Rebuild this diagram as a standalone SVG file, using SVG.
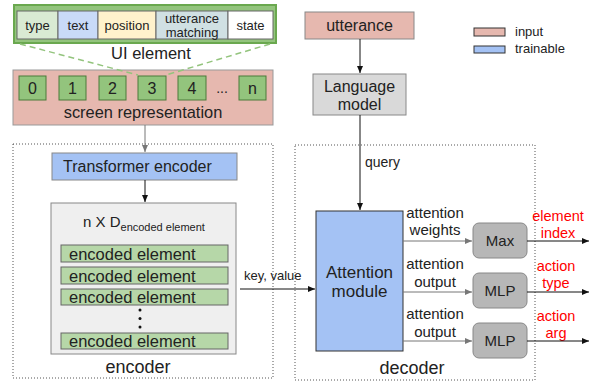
<svg xmlns="http://www.w3.org/2000/svg" width="593" height="383" viewBox="0 0 593 383">
<defs>
<style>
text{font-family:"Liberation Sans",Arial,sans-serif;fill:#222}
.c{text-anchor:middle}
.t16{font-size:16px}
.t15{font-size:15px}
.t13{font-size:13px}
.t14{font-size:14px}
.red{fill:#ff0000;font-size:14.5px;text-anchor:middle}
.cell{stroke:#666;stroke-width:1}
.num{fill:#93c47d;stroke:#4a7a3a;stroke-width:1}
.enc{fill:#b6d7a8;stroke:#666;stroke-width:1}
.et{font-size:16.5px}
.gl{stroke:#777;stroke-width:1;fill:none}
.bl{stroke:#111;stroke-width:1;fill:none}
.dot{fill:none;stroke:#555;stroke-width:1;stroke-dasharray:1,2}
</style>
<marker id="ah" markerWidth="8" markerHeight="8" refX="7" refY="4" orient="auto" markerUnits="userSpaceOnUse"><path d="M0,1 L7,4 L0,7 z" fill="#111"/></marker>
<marker id="ahg" markerWidth="8" markerHeight="8" refX="7" refY="4" orient="auto" markerUnits="userSpaceOnUse"><path d="M0,1 L7,4 L0,7 z" fill="#777"/></marker>
</defs>

<g id="encoder-frame"><rect class="dot" x="13" y="144" width="260" height="234"/><text class="c" x="138" y="373" style="font-size:18px">encoder</text></g>
<g id="decoder-frame"><rect class="dot" x="295" y="145" width="240" height="235"/><text class="c" x="412" y="374" style="font-size:18px">decoder</text></g>

<g id="ui-element">
<rect x="14" y="5" width="262" height="38" fill="#93c47d" stroke="#6aa84f" stroke-width="2"/>
<rect class="cell" x="17" y="11" width="41" height="28" fill="#d9ead3"/>
<rect class="cell" x="58" y="11" width="40" height="28" fill="#c9daf8"/>
<rect class="cell" x="98" y="11" width="58" height="28" fill="#fff2cc"/>
<rect class="cell" x="156" y="11" width="72" height="28" fill="#d0e0e3"/>
<rect class="cell" x="228" y="11" width="45" height="28" fill="#ffffff"/>
<text class="c t13" x="37.5" y="30">type</text>
<text class="c t13" x="78" y="30">text</text>
<text class="c t13" x="127" y="30">position</text>
<text class="c t13" x="192" y="23">utterance</text>
<text class="c t13" x="192" y="37">matching</text>
<text class="c t13" x="250.5" y="30">state</text>
<text class="c" x="151" y="59" style="font-size:16.5px">UI element</text>
</g>

<g id="screen-representation">
<rect x="13" y="70" width="260" height="55" fill="#e6b8af" stroke="#999"/>
<rect class="num" x="19" y="76" width="27" height="24"/>
<rect class="num" x="59" y="76" width="27" height="24"/>
<rect class="num" x="99" y="76" width="27" height="24"/>
<rect class="num" x="138" y="76" width="28" height="24"/>
<rect class="num" x="178" y="76" width="28" height="24"/>
<rect class="num" x="239" y="76" width="27" height="24"/>
<text class="c t16" x="32.5" y="94">0</text>
<text class="c t16" x="72.5" y="94">1</text>
<text class="c t16" x="112.5" y="94">2</text>
<text class="c t16" x="152" y="94">3</text>
<text class="c t16" x="192" y="94">4</text>
<text class="c t14" x="222" y="93">...</text>
<text class="c t16" x="252.5" y="94">n</text>
<text class="c" x="143" y="118" style="font-size:16.4px">screen representation</text>
</g>

<g id="transformer-encoder">
<rect x="52" y="153" width="185" height="27" fill="#a4c2f4" stroke="#888"/>
<text class="t16" x="63" y="172">Transformer encoder</text>
</g>

<g id="encoded-matrix">
<rect x="51" y="203" width="185" height="151" fill="#efefef" stroke="#888"/>
<text class="t15" x="83" y="227">n X D<tspan dy="4" style="font-size:11px">encoded element</tspan></text>
<rect class="enc" x="61" y="245" width="167" height="17"/>
<rect class="enc" x="61" y="267" width="167" height="17"/>
<rect class="enc" x="61" y="289" width="167" height="16"/>
<rect class="enc" x="61" y="333" width="167" height="16"/>
<text class="et" x="69" y="260">encoded element</text>
<text class="et" x="69" y="282">encoded element</text>
<text class="et" x="69" y="303">encoded element</text>
<text class="et" x="69" y="347">encoded element</text>
<circle cx="140" cy="310" r="1.5" fill="#111"/>
<circle cx="140" cy="318.5" r="1.5" fill="#111"/>
<circle cx="140" cy="327" r="1.5" fill="#111"/>
</g>

<g id="utterance">
<rect x="305" y="12" width="109" height="27" fill="#e6b8af" stroke="#888"/>
<text class="c t16" x="359.5" y="31">utterance</text>
</g>

<g id="language-model">
<rect x="313" y="74" width="93" height="41" fill="#d9d9d9" stroke="#888"/>
<text class="c t16" x="359.5" y="92">Language</text>
<text class="c t16" x="359.5" y="110">model</text>
</g>

<g id="legend">
<rect x="474" y="28" width="31" height="8" fill="#e6b8af" stroke="#333"/>
<rect x="474" y="46" width="31" height="7" fill="#a4c2f4" stroke="#333"/>
<text class="t13" x="515" y="36">input</text>
<text class="t13" x="515" y="53">trainable</text>
</g>

<g id="attention-module">
<rect x="316" y="211" width="87" height="140" fill="#a4c2f4" stroke="#333"/>
<text class="c" x="359.5" y="278" style="font-size:17px">Attention</text>
<text class="c" x="359.5" y="297" style="font-size:17px">module</text>
</g>

<g id="max">
<rect x="473" y="223" width="54" height="35" rx="6" fill="#b7b7b7" stroke="#888"/>
<text class="c t15" x="500" y="246">Max</text>
</g>
<g id="mlp1">
<rect x="473" y="273" width="54" height="35" rx="6" fill="#b7b7b7" stroke="#888"/>
<text class="c t15" x="500" y="296">MLP</text>
</g>
<g id="mlp2">
<rect x="473" y="323" width="54" height="35" rx="6" fill="#b7b7b7" stroke="#888"/>
<text class="c t15" x="500" y="346">MLP</text>
</g>

<g id="output-labels">
<text class="red" x="558" y="221">element</text>
<text class="red" x="558" y="238">index</text>
<text class="red" x="556" y="271">action</text>
<text class="red" x="556" y="288">type</text>
<text class="red" x="556" y="321">action</text>
<text class="red" x="556" y="338">arg</text>
</g>

<g id="connectors">
<line x1="20" y1="44" x2="138" y2="75" stroke="#93c47d" stroke-width="1.5" stroke-dasharray="6,4"/>
<line x1="270" y1="44" x2="166" y2="75" stroke="#93c47d" stroke-width="1.5" stroke-dasharray="6,4"/>
<line class="gl" x1="145" y1="125" x2="145" y2="152" marker-end="url(#ahg)"/>
<line class="bl" x1="145" y1="180" x2="145" y2="202" marker-end="url(#ah)"/>
<line class="bl" x1="360" y1="39" x2="360" y2="73" marker-end="url(#ah)"/>
<line class="bl" x1="360" y1="115" x2="360" y2="210" marker-end="url(#ah)"/>
<text class="t14" x="365" y="167">query</text>
<line class="bl" x1="240" y1="289" x2="315" y2="289" marker-end="url(#ah)"/>
<text class="t13" x="244" y="280">key, value</text>
<line class="gl" x1="403" y1="241" x2="472" y2="241" marker-end="url(#ahg)"/>
<line class="gl" x1="403" y1="292" x2="472" y2="292" marker-end="url(#ahg)"/>
<line class="gl" x1="403" y1="341" x2="472" y2="341" marker-end="url(#ahg)"/>
<text class="c t15" x="435" y="218">attention</text>
<text class="c t15" x="435" y="235">weights</text>
<text class="c t15" x="435" y="269">attention</text>
<text class="c t15" x="435" y="287">output</text>
<text class="c t15" x="435" y="319">attention</text>
<text class="c t15" x="435" y="337">output</text>
<line class="bl" x1="527" y1="241" x2="589" y2="241" marker-end="url(#ah)"/>
<line class="bl" x1="527" y1="292" x2="589" y2="292" marker-end="url(#ah)"/>
<line class="bl" x1="527" y1="341" x2="589" y2="341" marker-end="url(#ah)"/>
</g>
</svg>
